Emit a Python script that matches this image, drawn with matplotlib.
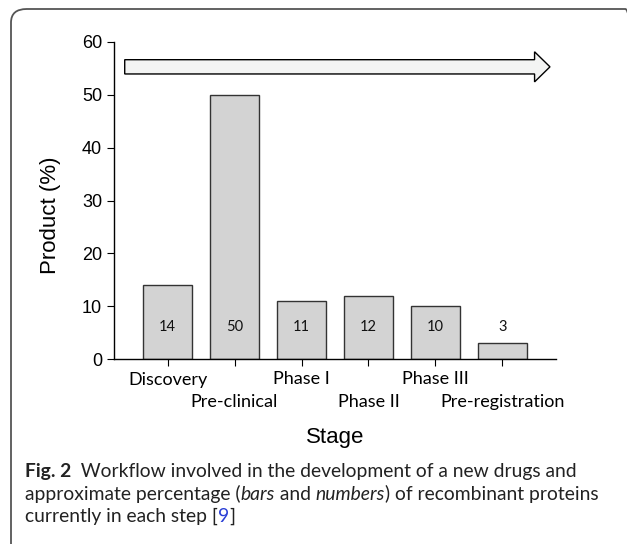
import numpy as np
import matplotlib
matplotlib.use("Agg")
import matplotlib.pyplot as plt
import matplotlib.patches as mpatches

# data
stages = ["Discovery", "Pre-clinical", "Phase I", "Phase II", "Phase III", "Pre-registration"]
values = [14, 50, 11, 12, 10, 3]
yticks = [0, 10, 20, 30, 40, 50, 60]

W, H = 627, 544
fig = plt.figure(figsize=(W/100, H/100), dpi=100)

# rounded frame around figure + caption
frame = mpatches.FancyBboxPatch((11/W, -20/H), 630/W, (535+20)/H,
                                boxstyle="round,pad=0,rounding_size=0.025",
                                transform=fig.transFigure, fill=False,
                                edgecolor='#555555', linewidth=1.3, clip_on=False)
fig.patches.append(frame)

ax = fig.add_axes([114/W, 1-359/H, (556-114)/W, (359-42)/H])
x = np.arange(len(stages))
ax.bar(x, values, width=0.73, color='#d3d3d3', edgecolor='#333333', linewidth=1.0)
for xi, v in zip(x, values):
    ax.text(xi, 6, str(v), ha='center', va='center', fontsize=10.5,
            family='Lato', color='#111111')

# process arrow across top
arr = mpatches.FancyArrow(-0.64, 55.3, 6.35, 0, width=2.7, head_width=5.7,
                          head_length=0.23, length_includes_head=True,
                          facecolor='#f3f4f3', edgecolor='black', linewidth=1.0)
ax.add_patch(arr)

ax.set_xlim(-0.8, 5.8)
ax.set_ylim(0, 60)
ax.set_yticks(yticks)
ax.set_yticklabels([str(t) for t in yticks], family='Liberation Sans', fontsize=13)
ax.set_xticks(x)
ax.set_xticklabels(stages, family='Lato', fontsize=13)
ax.tick_params(axis='both', direction='out', length=5, width=0.8)
for i, tk in enumerate(ax.xaxis.get_major_ticks()):
    tk.set_pad(4 if i % 2 == 0 else 20)
for s in ['top', 'right']:
    ax.spines[s].set_visible(False)
for s in ['left', 'bottom']:
    ax.spines[s].set_linewidth(1.0)

ax.set_ylabel("Product (%)", family='Liberation Sans', fontsize=16)
ax.yaxis.set_label_coords((61-114)/442, (359-215)/317)
ax.set_xlabel("Stage", family='Liberation Sans', fontsize=16)
ax.xaxis.set_label_coords(0.5, -(427-359)/317)

# caption, built piece by piece so bold/italic/link colour can be mixed
cap_font = 'Lato'
cap_size = 13.9
txt_col = '#222222'
lines = [
    [("Fig. 2", 'bold', 'normal', txt_col), ("  Workflow involved in the development of a new drugs and", 'normal', 'normal', txt_col)],
    [("approximate percentage (", 'normal', 'normal', txt_col), ("bars", 'normal', 'italic', txt_col),
     (" and ", 'normal', 'normal', txt_col), ("numbers", 'normal', 'italic', txt_col),
     (") of recombinant proteins", 'normal', 'normal', txt_col)],
    [("currently in each step [", 'normal', 'normal', txt_col), ("9", 'normal', 'normal', '#2a3fd6'),
     ("]", 'normal', 'normal', txt_col)],
]
line_y = [477, 500, 522]
renderer = fig.canvas.get_renderer()
for parts, yb in zip(lines, line_y):
    xp = 25
    for s, wgt, sty, col in parts:
        t = fig.text(xp/W, 1-yb/H, s, fontsize=cap_size, family=cap_font, weight=wgt,
                     style=sty, color=col, va='baseline', ha='left')
        bb = t.get_window_extent(renderer)
        xp += bb.width

fig.savefig("out.png", dpi=100)
